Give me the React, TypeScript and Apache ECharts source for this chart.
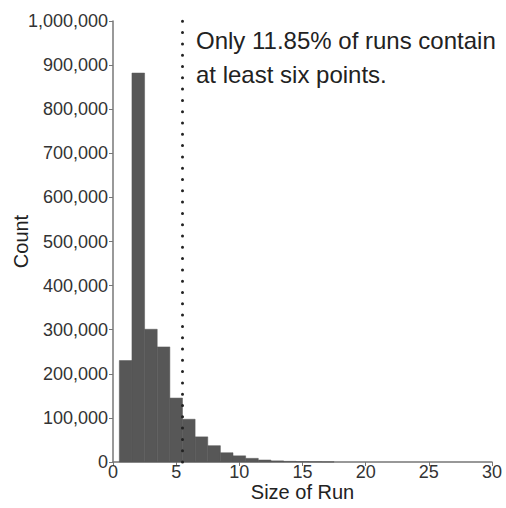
import React, { useEffect, useRef } from "react";
import * as echarts from "echarts";

const runSizes = [1, 2, 3, 4, 5, 6, 7, 8, 9, 10, 11, 12, 13, 14, 15, 16, 17];
const counts = [230000, 882000, 301000, 261000, 145000, 97000, 57000, 37000, 21000, 14000, 8300, 4500, 2600, 1500, 900, 500, 300];
const xTicks = [0, 5, 10, 15, 20, 25, 30];
const yTickMax = 1000000;
const cutoff = 5.5;
const noteLines = ["Only 11.85% of runs contain", "at least six points."];

export default function App() {
  const ref = useRef<HTMLDivElement>(null);
  useEffect(() => {
    if (!ref.current) return;
    const chart = echarts.init(ref.current, null, { renderer: "svg" });
    const data = runSizes.map((x, i) => [x, counts[i]]);
    const axisColor = "#777";
    const textColor = "#333";
    const font = "Liberation Sans, Arial, sans-serif";
    chart.setOption({
      animation: false,
      backgroundColor: "#fff",
      grid: {
        left: 113,
        right: 14,
        top: 21,
        bottom: 46,
        containLabel: false,
        outerBoundsMode: "none",
      },
      xAxis: {
        type: "value",
        min: xTicks[0],
        max: xTicks[xTicks.length - 1],
        interval: 5,
        name: "Size of Run",
        nameLocation: "middle",
        nameGap: 20,
        nameMoveOverlap: false,
        nameTextStyle: { fontSize: 20, color: "#222", fontFamily: font },
        axisLine: { show: true, lineStyle: { color: axisColor, width: 1.5 } },
        axisTick: { show: true, length: 4, lineStyle: { color: axisColor } },
        axisLabel: { fontSize: 18, color: textColor, fontFamily: font, margin: 1 },
        splitLine: { show: false },
      },
      yAxis: {
        type: "value",
        min: 0,
        max: yTickMax,
        interval: 100000,
        name: "Count",
        nameLocation: "middle",
        nameGap: 82,
        nameMoveOverlap: false,
        nameRotate: 90,
        nameTextStyle: { fontSize: 20, color: "#222", fontFamily: font },
        axisLine: { show: true, lineStyle: { color: axisColor, width: 1.5 } },
        axisTick: { show: true, length: 4, lineStyle: { color: axisColor } },
        axisLabel: {
          fontSize: 18,
          color: textColor,
          fontFamily: font,
          margin: 5,
          formatter: (v: number) => v.toLocaleString("en-US"),
        },
        splitLine: { show: false },
      },
      series: [
        {
          type: "custom",
          data,
          renderItem: (params: any, api: any) => {
            const x = api.value(0);
            const y = api.value(1);
            const p0 = api.coord([x - 0.5, 0]);
            const p1 = api.coord([x + 0.5, y]);
            return {
              type: "rect",
              shape: { x: p0[0], y: p1[1], width: p1[0] - p0[0], height: p0[1] - p1[1] },
              style: { fill: "#575757", stroke: "#575757", lineWidth: 0.5 },
            };
          },
          markLine: {
            silent: true,
            symbol: "none",
            label: { show: false },
            lineStyle: { color: "#222", width: 3, type: [0, 11.3], cap: "round" },
            data: [[{ coord: [cutoff, 0] }, { coord: [cutoff, yTickMax] }]],
          },
        },
      ],
      graphic: noteLines.map((t, i) => ({
        type: "text",
        left: 196,
        top: 28 + i * 34,
        style: { text: t, fontSize: 24, fill: "#222", fontFamily: font },
      })),
    });
    return () => chart.dispose();
  }, []);
  return (
    <div
      ref={ref}
      style={{ position: "fixed", left: 0, top: 0, width: 506, height: 508 }}
    />
  );
}
